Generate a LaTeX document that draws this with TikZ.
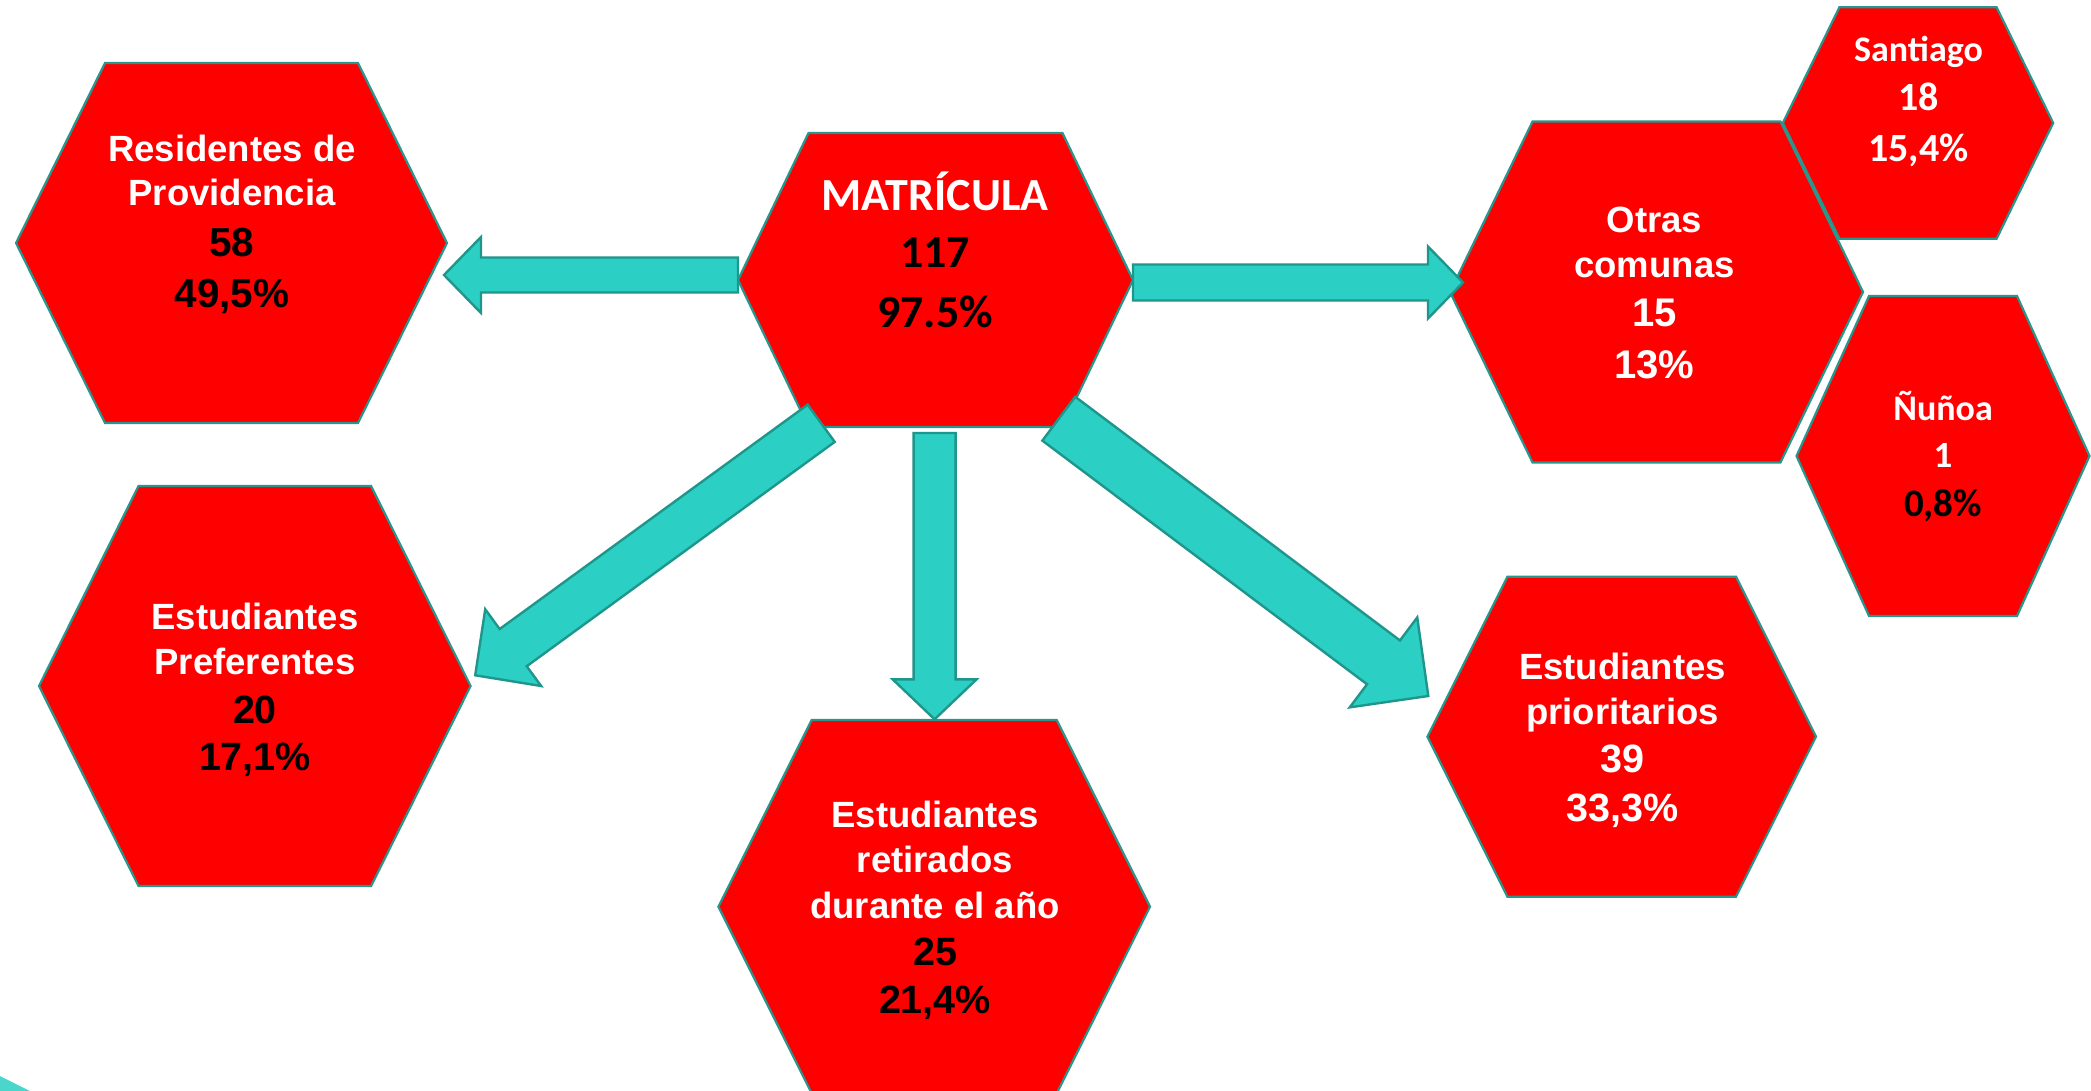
\documentclass[tikz,border=0pt]{standalone}
\usepackage{fontspec}
\setmainfont{Liberation Sans}
\newfontfamily\calib{Carlito}
\usetikzlibrary{calc}
\definecolor{hexred}{RGB}{255,0,0}
\definecolor{tealfill}{RGB}{43,207,195}
\definecolor{tealline}{RGB}{31,150,140}
\definecolor{hexline}{RGB}{40,150,140}
\tikzset{
  hexa/.style={fill=hexred, draw=hexline, line width=2.2pt, line join=miter},
  blockarrow/.style={fill=tealfill, draw=tealline, line width=2.4pt, line join=miter},
  lbl/.style={anchor=base, inner sep=0pt},
  wtxt/.style={lbl, text=white, font=\bfseries\fontsize{36.5}{40}\selectfont},
  wnum/.style={lbl, text=white, font=\bfseries\fontsize{40}{46}\selectfont},
  bnum/.style={lbl, text=black, font=\bfseries\fontsize{40.5}{46}\selectfont},
  cwtxt/.style={lbl, text=white, font=\calib\bfseries\fontsize{36}{40}\selectfont},
  cwnum/.style={lbl, text=white, font=\calib\bfseries\fontsize{40}{46}\selectfont},
  cbnum/.style={lbl, text=black, font=\calib\bfseries\fontsize{39}{46}\selectfont},
}
\newcommand\hexcell[6]{% name, cx, cy, half width, top half width, half height
  \draw[hexa] ({#2-#5},{#3-#6}) -- ({#2+#5},{#3-#6}) -- ({#2+#4},#3) -- ({#2+#5},{#3+#6}) -- ({#2-#5},{#3+#6}) -- ({#2-#4},#3) -- cycle;
  \coordinate (#1) at (#2,#3);
}
\newcommand\blockarr[5]{% from, to, shaft half width, head half width, head length
  \coordinate (hb) at ($(#2)!#5!(#1)$);
  \draw[blockarrow] ($(#1)!#3!90:(#2)$) -- ($(hb)!#3!90:(#2)$) -- ($(hb)!#4!90:(#2)$) -- (#2)
    -- ($(hb)!#4!-90:(#2)$) -- ($(hb)!#3!-90:(#2)$) -- ($(#1)!#3!-90:(#2)$) -- cycle;
}
\begin{document}
\begin{tikzpicture}[x=1pt,y=-1pt]
\useasboundingbox (0,0) rectangle (2091,1091);
\fill[white] (0,0) rectangle (2091,1091);
% corner decoration
\fill[tealfill, opacity=0.85] (0,1076) .. controls (10,1081) and (20,1086) .. (30,1091) -- (0,1091) -- cycle;

% hexagons
\hexcell{res}{231.5}{243}{215.5}{126.5}{180}
\hexcell{mat}{935.5}{280}{197.5}{127}{147}
\hexcell{otr}{1656.5}{292}{206.5}{124}{170.4}
\hexcell{san}{1918}{123}{135.2}{78.6}{115.7}
\hexcell{nun}{1943}{456}{146.5}{74}{160}
\hexcell{pre}{254.8}{686}{215.8}{116.3}{200}
\hexcell{ret}{934.2}{906.7}{215.8}{122.5}{186.7}
\hexcell{pri}{1621.7}{736.7}{194.3}{114.3}{160}

% texts
\node[wtxt] (res1) at (232,162) {Residentes de};
\node[wtxt] (res2) at (232,206) {Providencia};
\node[bnum] (res3) at (232,257) {58};
\node[bnum] (res4) at (232,308) {49,5\%};

\node[lbl, text=white, font=\calib\bfseries\fontsize{46}{50}\selectfont] (mat1) at (935,211) {MATRÍCULA};
\node[lbl, text=black, font=\calib\bfseries\fontsize{46}{50}\selectfont] (mat2) at (935,268) {117};
\node[lbl, text=black, font=\calib\bfseries\fontsize{46}{50}\selectfont] (mat3) at (935,327) {97.5\%};

\node[wtxt] (otr1) at (1654.5,232.7) {Otras};
\node[wtxt] (otr2) at (1654.5,277.6) {comunas};
\node[wnum] (otr3) at (1654.5,326.5) {15};
\node[wnum] (otr4) at (1654.5,378.8) {13\%};

\node[cwtxt] (san1) at (1918.5,61.2) {Santiago};
\node[cwnum] (san2) at (1918.5,110.2) {18};
\node[cwnum] (san3) at (1918.5,161.2) {15,4\%};

\node[cwtxt] (nun1) at (1943,420.4) {Ñuñoa};
\node[cwnum, font=\calib\bfseries\fontsize{37}{40}\selectfont] (nun2) at (1943,467.3) {1};
\node[cbnum] (nun3) at (1943,516.3) {0,8\%};

\node[wtxt] (pre1) at (255,629.3) {Estudiantes};
\node[wtxt] (pre2) at (255,674) {Preferentes};
\node[bnum, font=\bfseries\fontsize{39.5}{46}\selectfont] (pre3) at (255,723.3) {20};
\node[bnum, font=\bfseries\fontsize{39.5}{46}\selectfont] (pre4) at (255,770) {17,1\%};

\node[wtxt] (ret1) at (935,827.3) {Estudiantes};
\node[wtxt] (ret2) at (935,872.7) {retirados};
\node[wtxt] (ret3) at (935,918.3) {durante el año};
\node[bnum, font=\bfseries\fontsize{39.5}{46}\selectfont] (ret4) at (935,965) {25};
\node[bnum, font=\bfseries\fontsize{39.5}{46}\selectfont] (ret5) at (935,1013.3) {21,4\%};

\node[wtxt] (pri1) at (1622.5,679.3) {Estudiantes};
\node[wtxt] (pri2) at (1622.5,724) {prioritarios};
\node[wnum, font=\bfseries\fontsize{39.5}{46}\selectfont] (pri3) at (1622.5,772.7) {39};
\node[wnum, font=\bfseries\fontsize{39.5}{46}\selectfont] (pri4) at (1622.5,821) {33,3\%};

% arrow end points
\coordinate (matW) at (738,275);
\coordinate (resE) at (444,275);
\coordinate (matE) at (1133,282.5);
\coordinate (otrW) at (1463,282.5);
\coordinate (matS) at (934.6,433);
\coordinate (retN) at (934.6,719.3);
\coordinate (matSW) at (821.2,423.3);
\coordinate (preNE) at (475.2,675.3);
\coordinate (matSE) at (1058.8,418.7);
\coordinate (priNW) at (1428.3,696);

% block arrows
\blockarr{matW}{resE}{17.5pt}{38pt}{37pt}
\blockarr{matE}{otrW}{18pt}{36pt}{35pt}
\blockarr{matS}{retN}{21pt}{42pt}{40pt}
\blockarr{matSW}{preNE}{23pt}{47.5pt}{47pt}
\blockarr{matSE}{priNW}{27.4pt}{56.2pt}{56pt}
\end{tikzpicture}
\end{document}
